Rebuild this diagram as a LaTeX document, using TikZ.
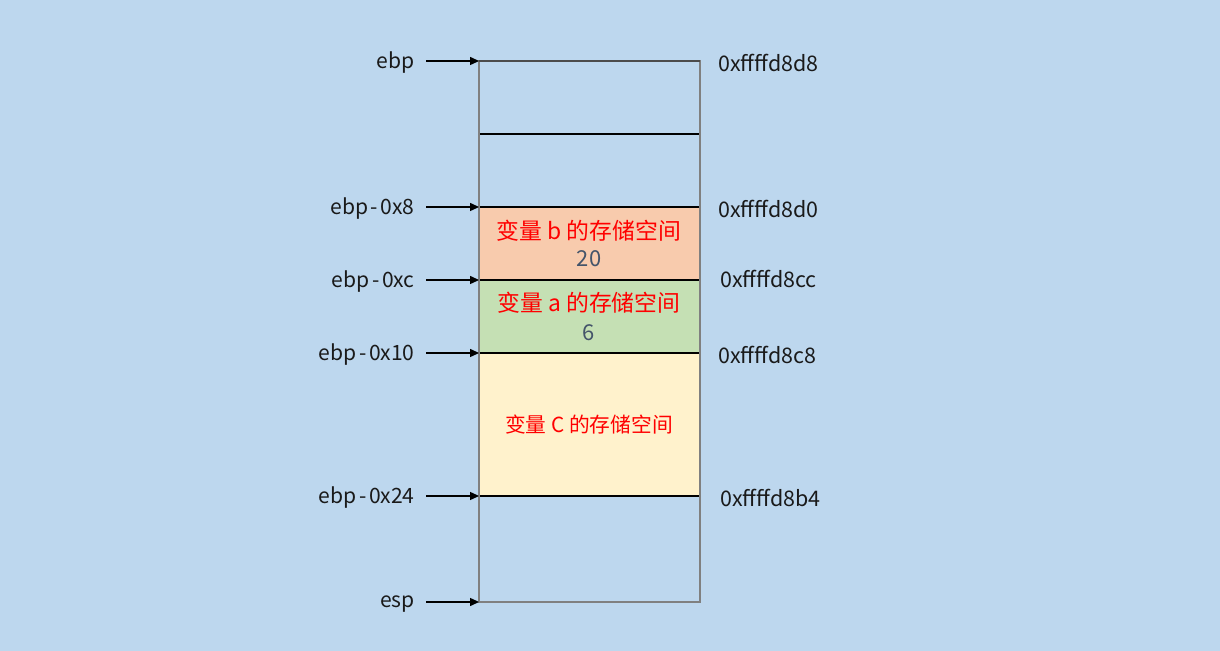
\documentclass[tikz,border=0pt]{standalone}
\usepackage{fontspec}
\setmainfont{Noto Sans CJK SC}
\usetikzlibrary{arrows.meta}
\definecolor{bgc}{HTML}{BDD7EE}
\definecolor{cellb}{HTML}{F8CBAD}
\definecolor{cella}{HTML}{C5E0B4}
\definecolor{cellc}{HTML}{FFF2CC}
\definecolor{frame}{HTML}{808080}
\definecolor{valc}{HTML}{44546A}
\definecolor{txtc}{HTML}{1A1A1A}
\newcommand{\hy}{\kern1.5pt-\kern1.5pt}

\begin{document}
\begin{tikzpicture}[x=0.02cm, y=-0.02cm, >={Triangle[length=5pt,width=4.5pt]},
  lbl/.style={font=\fontsize{12}{14}\selectfont, text=txtc, inner sep=0pt},
  addr/.style={font=\fontsize{12.2}{14}\selectfont, text=txtc, inner sep=0pt, anchor=west},
  var/.style={font=\fontsize{13}{15}\selectfont, text=red, inner sep=0pt},
  val/.style={font=\fontsize{12.5}{15}\selectfont, text=valc, inner sep=0pt}]
  % background and cells
  \fill[bgc] (0,0) rectangle (1220,651);
  \useasboundingbox (0,0) rectangle (1220,651);
  \fill[cellb] (479,207) rectangle (700,280);
  \fill[cella] (479,280) rectangle (700,353);
  \fill[cellc] (479,353) rectangle (700,496);
  \foreach \y in {134,207,280,353,496}
    \draw[black, line width=0.6pt] (479,\y) -- (700,\y);
  \draw[frame, line width=1pt] (479,61) rectangle (700,602);
  \draw[black!70, line width=0.6pt] (479,61) -- (700,61);
  % left labels with arrows
  \foreach \i/\y/\t in {1/61/ebp, 2/207/ebp\hy0x8, 3/280/ebp\hy0xc, 4/353/ebp\hy0x10, 5/496/ebp\hy0x24, 6/602/esp} {
    \node[lbl, anchor=east] (reg\i) at (415,\y+2) {\t};
    \coordinate (from\i) at (426,\y);
    \coordinate (to\i) at (479,\y);
    \draw[->, black, line width=0.6pt] (from\i) -- (to\i);
  }
  % addresses
  \foreach \i/\x/\y/\t in {1/718/63/0xffffd8d8, 2/718/209/0xffffd8d0, 3/720/279/0xffffd8cc, 4/718/355/0xffffd8c8, 5/720/498/0xffffd8b4}
    \node[addr] (addr\i) at (\x,\y) {\t};
  % cell contents
  \node[var] (varb) at (589,231) {变量 b 的存储空间};
  \node[val] (valb) at (589,259) {20};
  \node[var] (vara) at (589,303) {变量 a 的存储空间};
  \node[val] (vala) at (589,333) {6};
  \node[var, font=\fontsize{11.8}{14}\selectfont] (varc) at (589,425) {变量 C 的存储空间};
\end{tikzpicture}
\end{document}
